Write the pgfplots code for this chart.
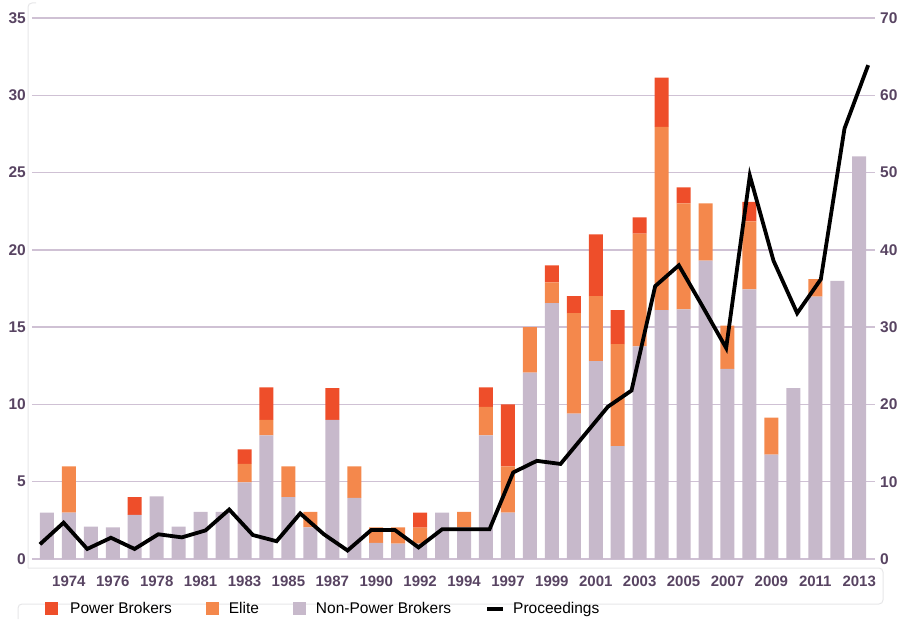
\documentclass[border=0pt]{standalone}
\usepackage{pgfplots}
\usepackage{pgfplotstable}
\pgfplotsset{compat=1.18}
\usepackage{fontspec}
\setmainfont{Liberation Sans}
\definecolor{pbc}{RGB}{238,78,42}
\definecolor{elc}{RGB}{244,136,76}
\definecolor{npc}{RGB}{199,185,203}
\definecolor{gridc}{RGB}{207,193,212}
\definecolor{txtc}{RGB}{88,68,98}
\definecolor{framec}{RGB}{230,230,232}

\pgfplotstableread{
x npb el pb
0 3.0 0 0
1 3.0 3.0 0
2 2.1 0 0
3 2.05 0 0
4 2.85 0 1.15
5 4.05 0 0
6 2.1 0 0
7 3.05 0 0
8 3.05 0 0
9 4.95 1.2 0.95
10 8.0 1.0 2.1
11 4.0 2.0 0
12 2.05 1.0 0
13 9.0 0 2.05
14 3.95 2.05 0
15 1.05 1.0 0
16 1.0 1.05 0
17 1.0 1.03 0.97
18 3.0 0 0
19 2.05 1.0 0
20 8.0 1.85 1.25
21 3.0 3.0 4.0
22 12.05 2.95 0
23 16.55 1.35 1.1
24 9.4 6.5 1.1
25 12.8 4.2 4.0
26 7.3 6.6 2.2
27 13.75 7.3 1.05
28 16.1 11.85 3.2
29 16.15 6.85 1.05
30 19.3 3.7 0
31 12.3 2.8 0
32 17.45 4.4 1.25
33 6.75 2.4 0
34 11.05 0 0
35 16.97 1.13 0
36 18.0 0 0
37 26.05 0 0
}\bars

\pgfplotstableread{
x y
-0.319 1.9
0.759 4.7
1.837 1.3
2.915 2.75
3.993 1.3
5.071 3.2
6.148 2.8
7.226 3.7
8.304 6.4
9.382 3.1
10.460 2.3
11.538 5.9
12.616 3.2
13.694 1.1
14.772 3.75
15.850 3.75
16.927 1.5
18.005 3.85
19.083 3.85
20.161 3.85
21.239 11.2
22.317 12.7
23.395 12.3
24.473 16.0
25.551 19.7
26.629 21.8
27.706 35.3
28.784 38.0
29.862 32.7
30.940 27.3
32.018 49.6
33.096 38.6
34.174 31.8
35.252 36.2
36.330 55.7
37.408 63.9
}\proc

\begin{document}
\begin{tikzpicture}
\useasboundingbox (0pt,0pt) rectangle (909pt,619pt);
\draw[framec, line width=1pt] (28pt,51pt) -- (28pt,612pt) arc[start angle=180,end angle=90,radius=4pt] -- (36pt,616pt);
\draw[framec, line width=1pt] (28pt,51pt) -- (879pt,51pt) arc[start angle=90,end angle=0,radius=4pt] -- (883pt,19pt) arc[start angle=0,end angle=-90,radius=4pt] -- (22pt,15pt) arc[start angle=90,end angle=180,radius=4pt] -- (18pt,0pt);

\begin{axis}[
  at={(32pt,60pt)}, anchor=south west,
  width=843pt, height=541pt, scale only axis,
  xmin=-0.68, xmax=37.72, ymin=0, ymax=35,
  ybar stacked, bar width=14pt,
  axis line style={draw=none}, major tick length=0pt,
  ymajorgrids, grid style={gridc, line width=1.3pt},
  ytick={0,5,...,35},
  xtick={1,3,5,7,9,11,13,15,17,19,21,23,25,27,29,31,33,35,37},
  xticklabels={1974,1976,1978,1981,1983,1985,1987,1990,1992,1994,1997,1999,2001,2003,2005,2007,2009,2011,2013},
  /pgf/number format/assume math mode=true,
  yticklabel style={font=\bfseries\fontsize{15.5}{18}\selectfont, text=txtc, inner sep=0pt, anchor=east, xshift=-6pt},
  xticklabel style={font=\bfseries\fontsize{15}{18}\selectfont, text=txtc, inner sep=0pt, anchor=north, yshift=-17pt},
  legend style={at={(axis description cs:0.0154,-0.0924)}, anchor=west, draw=none, fill=none,
    legend columns=4, font=\fontsize{15.5}{18}\selectfont, inner sep=0pt,
    /tikz/every even column/.append style={column sep=34pt},
    nodes={inner sep=0pt, anchor=west}},
  legend cell align=left,
]
\addlegendimage{legend image code/.code={\fill[pbc, draw=none] (0pt,-6.5pt) rectangle (13pt,6.5pt); \path[draw=none, fill=none] (0pt,0pt) -- (25pt,0pt);}}
\addlegendimage{legend image code/.code={\fill[elc, draw=none] (0pt,-6.5pt) rectangle (13pt,6.5pt); \path[draw=none, fill=none] (0pt,0pt) -- (23pt,0pt);}}
\addlegendimage{legend image code/.code={\fill[npc, draw=none] (0pt,-6.5pt) rectangle (13pt,6.5pt); \path[draw=none, fill=none] (0pt,0pt) -- (23pt,0pt);}}
\addlegendimage{legend image code/.code={\draw[black, line width=4pt] (0pt,0pt) -- (16pt,0pt); \path[draw=none, fill=none] (0pt,0pt) -- (26pt,0pt);}}
\addplot[fill=npc, draw=none, forget plot] table[x=x, y=npb] {\bars};
\addplot[fill=elc, draw=none, forget plot] table[x=x, y=el] {\bars};
\addplot[fill=pbc, draw=none, forget plot] table[x=x, y=pb] {\bars};
\legend{Power Brokers, Elite, Non-Power Brokers, Proceedings}
\end{axis}

\begin{axis}[
  at={(32pt,60pt)}, anchor=south west,
  width=843pt, height=541pt, scale only axis,
  xmin=-0.68, xmax=37.72, ymin=0, ymax=70,
  axis x line=none, axis y line*=right,
  axis line style={draw=none}, major tick length=0pt,
  ytick={0,10,...,70},
  /pgf/number format/assume math mode=true,
  yticklabel style={font=\bfseries\fontsize{15.5}{18}\selectfont, text=txtc, inner sep=0pt, anchor=west, xshift=5pt},
  clip=false,
]
\addplot[black, line width=3.8pt, line join=miter, mark=none] table[x=x, y=y] {\proc};
\end{axis}
\end{tikzpicture}
\end{document}
